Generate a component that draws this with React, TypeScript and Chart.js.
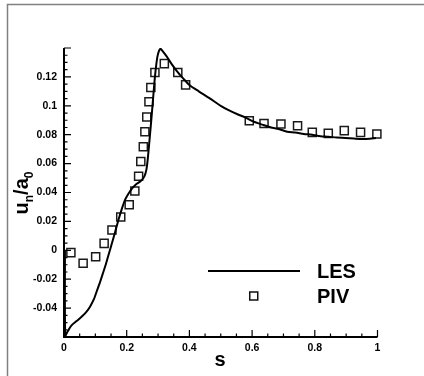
import React, { useEffect, useRef } from "react";
import { Chart, registerables } from "chart.js";

Chart.register(...registerables);

// LES curve (s, u_n/a_0)
const lesS = [
  0.003, 0.004, 0.012, 0.024, 0.04, 0.056, 0.07, 0.083, 0.095, 0.105, 0.115, 0.124, 0.133, 0.141, 0.149,
  0.157, 0.166, 0.175, 0.185, 0.195, 0.205, 0.218, 0.232, 0.245, 0.256, 0.263, 0.268, 0.273, 0.278, 0.283,
  0.288, 0.293, 0.298, 0.303, 0.308, 0.314, 0.328, 0.343, 0.36, 0.38, 0.402, 0.43, 0.466, 0.5, 0.525, 0.555,
  0.578, 0.605, 0.632, 0.66, 0.685, 0.712, 0.738, 0.765, 0.791, 0.818, 0.844, 0.87, 0.897, 0.925, 0.951,
  0.975, 0.995,
];
const lesU = [
  0.0, -0.059, -0.056, -0.052, -0.049, -0.046, -0.043, -0.039, -0.034, -0.028, -0.022, -0.016, -0.01, -0.004,
  0.002, 0.008, 0.015, 0.022, 0.029, 0.035, 0.039, 0.043, 0.046, 0.048, 0.051, 0.056, 0.065, 0.077, 0.089,
  0.102, 0.115, 0.126, 0.134, 0.138, 0.1395, 0.138, 0.134, 0.129, 0.124, 0.119, 0.114, 0.11, 0.105, 0.1,
  0.097, 0.094, 0.092, 0.089, 0.087, 0.085, 0.084, 0.082, 0.0815, 0.0805, 0.08, 0.079, 0.0786, 0.078,
  0.0777, 0.0773, 0.077, 0.0772, 0.0777,
];

// PIV measurements
const pivS = [
  0.022, 0.061, 0.101, 0.128, 0.153, 0.181, 0.208, 0.226, 0.238, 0.245, 0.253, 0.258, 0.264, 0.271, 0.277,
  0.29, 0.32, 0.363, 0.388, 0.591, 0.638, 0.692, 0.745, 0.792, 0.843, 0.894, 0.946, 0.998,
];
const pivU = [
  -0.0016, -0.009, -0.0044, 0.0048, 0.014, 0.023, 0.0315, 0.041, 0.0513, 0.0614, 0.0717, 0.082, 0.0922,
  0.1028, 0.1126, 0.123, 0.1292, 0.123, 0.1145, 0.0897, 0.0878, 0.0874, 0.0862, 0.0816, 0.0809, 0.0828,
  0.0816, 0.0805,
];

const xMin = 0, xMax = 1, xMajor = 0.2, xMinor = 0.05;
const yMin = -0.06, yMax = 0.14, yMajor = 0.02, yMinor = 0.005;
const yHiddenLabels = [-0.06, 0.14];

const legendLabels = ["LES", "PIV"];
const xTitle = "s";

const FONT = "'Liberation Sans', Arial, Helvetica, sans-serif";

const decorPlugin = {
  id: "decor",
  afterDraw(chart: any) {
    const ctx = chart.ctx as CanvasRenderingContext2D;
    const xs = chart.scales.x;
    const ys = chart.scales.y;
    const { left, right, top, bottom } = chart.chartArea;
    ctx.save();
    // outer frame (top + left)
    ctx.strokeStyle = "#808080";
    ctx.lineWidth = 1.5;
    ctx.beginPath();
    ctx.moveTo(7.5, 376);
    ctx.lineTo(7.5, 4.5);
    ctx.lineTo(424, 4.5);
    ctx.stroke();

    // axes lines
    ctx.strokeStyle = "#000";
    ctx.lineWidth = 2;
    ctx.beginPath();
    ctx.moveTo(left, top);
    ctx.lineTo(left, bottom);
    ctx.lineTo(right, bottom);
    ctx.stroke();

    // ticks (inward)
    ctx.lineWidth = 1.2;
    ctx.beginPath();
    const nx = Math.round((xMax - xMin) / xMinor);
    for (let i = 0; i <= nx; i++) {
      const v = xMin + i * xMinor;
      const px = xs.getPixelForValue(v);
      const major = i % Math.round(xMajor / xMinor) === 0;
      const len = major ? 7 : 3.5;
      ctx.moveTo(px, bottom);
      ctx.lineTo(px, bottom - len);
    }
    const ny = Math.round((yMax - yMin) / yMinor);
    for (let i = 0; i <= ny; i++) {
      const v = yMin + i * yMinor;
      const py = ys.getPixelForValue(v);
      const major = i % Math.round(yMajor / yMinor) === 0;
      const len = major ? 7 : 3.5;
      ctx.moveTo(left, py);
      ctx.lineTo(left + len, py);
    }
    ctx.stroke();

    // x title
    ctx.fillStyle = "#000";
    ctx.font = `bold 20px ${FONT}`;
    ctx.textAlign = "center";
    ctx.textBaseline = "alphabetic";
    ctx.fillText(xTitle, 220, 366);

    // y title u_n/a_0 rotated
    ctx.save();
    ctx.translate(23, 193);
    ctx.rotate(-Math.PI / 2);
    const parts = [
      { t: "u", sub: false },
      { t: "n", sub: true },
      { t: "/a", sub: false },
      { t: "0", sub: true },
    ];
    const mainFont = `bold 20px ${FONT}`;
    const subFont = `bold 12px ${FONT}`;
    let total = 0;
    for (const p of parts) {
      ctx.font = p.sub ? subFont : mainFont;
      total += ctx.measureText(p.t).width;
    }
    let cx = -total / 2;
    ctx.textAlign = "left";
    for (const p of parts) {
      ctx.font = p.sub ? subFont : mainFont;
      ctx.fillText(p.t, cx, p.sub ? 10 : 5);
      cx += ctx.measureText(p.t).width;
    }
    ctx.restore();

    // legend
    ctx.strokeStyle = "#000";
    ctx.lineWidth = 2;
    ctx.beginPath();
    ctx.moveTo(208, 271);
    ctx.lineTo(300, 271);
    ctx.stroke();
    ctx.lineWidth = 1.5;
    ctx.strokeStyle = "#111";
    ctx.strokeRect(249.75, 292, 8, 8);
    ctx.fillStyle = "#000";
    ctx.font = `bold 20px ${FONT}`;
    ctx.textAlign = "left";
    ctx.fillText(legendLabels[0], 317, 278);
    ctx.fillText(legendLabels[1], 317, 303);
    ctx.restore();
  },
};

export default function App() {
  const ref = useRef<HTMLCanvasElement | null>(null);
  useEffect(() => {
    if (!ref.current) return;
    const chart = new Chart(ref.current, {
      type: "scatter",
      data: {
        datasets: [
          {
            label: legendLabels[0],
            data: lesS.map((s, i) => ({ x: s, y: lesU[i] })),
            showLine: true,
            borderColor: "#000",
            borderWidth: 2,
            pointRadius: 0,
            tension: 0.25,
            fill: false,
          },
          {
            label: legendLabels[1],
            data: pivS.map((s, i) => ({ x: s, y: pivU[i] })),
            showLine: false,
            pointStyle: "rect",
            pointRadius: 5.7,
            borderColor: "#1a1a1a",
            borderWidth: 1.5,
            backgroundColor: "rgba(0,0,0,0)",
            clip: 12,
          } as any,
        ],
      },
      options: {
        responsive: false,
        animation: false,
        layout: { padding: { left: 0, top: 48, right: 46.5, bottom: 0 } },
        plugins: { legend: { display: false }, tooltip: { enabled: false } },
        scales: {
          x: {
            type: "linear",
            min: xMin,
            max: xMax,
            grid: { display: false, drawTicks: false },
            border: { display: false },
            ticks: {
              stepSize: xMajor,
              padding: 5,
              color: "#000",
              font: { family: FONT, size: 10.5, weight: "bold" },
              maxRotation: 0,
              callback: (v: any) => String(+Number(v).toFixed(2)),
            },
            afterFit: (s: any) => {
              s.height = 39;
            },
          },
          y: {
            type: "linear",
            min: yMin,
            max: yMax,
            grid: { display: false, drawTicks: false },
            border: { display: false },
            ticks: {
              stepSize: yMajor,
              padding: 7,
              color: "#000",
              font: { family: FONT, size: 10.5, weight: "bold" },
              callback: (v: any) => {
                const n = +Number(v).toFixed(3);
                if (yHiddenLabels.some((h) => Math.abs(h - n) < 1e-6)) return "";
                return String(+n.toFixed(2));
              },
            },
            afterFit: (s: any) => {
              s.width = 64;
            },
          },
        },
      },
      plugins: [decorPlugin],
    });
    return () => chart.destroy();
  }, []);
  return (
    <div style={{ position: "absolute", left: 0, top: 0, width: 424, height: 376, background: "#fff" }}>
      <canvas ref={ref} width={424} height={376} style={{ width: 424, height: 376, display: "block" }} />
    </div>
  );
}
